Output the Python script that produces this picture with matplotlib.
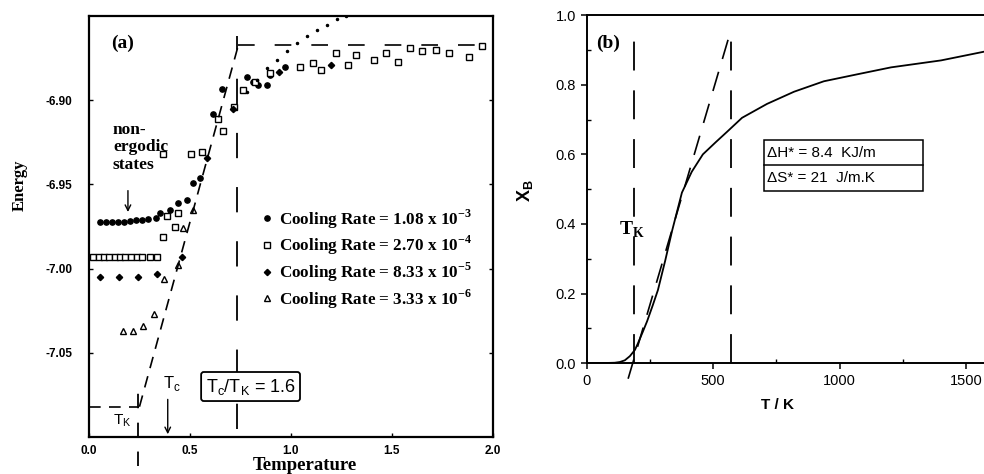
import numpy as np
import matplotlib
matplotlib.use("Agg")
import matplotlib.pyplot as plt
from matplotlib.font_manager import FontProperties
from matplotlib.patches import Rectangle

SERIF = "Liberation Serif"
SANS = "Liberation Sans"

# ---- panel (a) data: energy vs temperature for four cooling rates ----
circ_x = [0.055, 0.085, 0.115, 0.145, 0.175, 0.205, 0.235, 0.265, 0.29, 0.33, 0.35, 0.40,
          0.44, 0.485, 0.515, 0.55, 0.615, 0.66, 0.78, 0.81, 0.835, 0.88, 0.895, 0.97]
circ_y = [-6.972, -6.972, -6.972, -6.972, -6.972, -6.9715, -6.971, -6.971, -6.9705, -6.970,
          -6.967, -6.965, -6.961, -6.959, -6.949, -6.946, -6.908, -6.893, -6.886, -6.889,
          -6.891, -6.891, -6.885, -6.880]

sq_x = [0.02, 0.05, 0.075, 0.10, 0.13, 0.155, 0.18, 0.21, 0.24, 0.265, 0.30, 0.335, 0.365,
        0.385, 0.425, 0.44, 0.365, 0.505, 0.56, 0.64, 0.665, 0.72, 0.765, 0.82, 0.895, 1.045,
        1.11, 1.15, 1.225, 1.28, 1.32, 1.41, 1.47, 1.53, 1.59, 1.65, 1.72, 1.78, 1.88, 1.945]
sq_y = [-6.993, -6.993, -6.993, -6.993, -6.993, -6.993, -6.993, -6.993, -6.993, -6.993,
        -6.993, -6.993, -6.981, -6.969, -6.975, -6.967, -6.932, -6.932, -6.931, -6.911,
        -6.918, -6.904, -6.894, -6.889, -6.884, -6.880, -6.878, -6.882, -6.872, -6.879,
        -6.873, -6.876, -6.872, -6.877, -6.869, -6.871, -6.870, -6.872, -6.874, -6.868]

dia_x = [0.055, 0.15, 0.245, 0.335, 0.46, 0.585, 0.715, 0.94, 1.20]
dia_y = [-7.005, -7.005, -7.005, -7.003, -6.993, -6.934, -6.905, -6.883, -6.879]

tri_x = [0.17, 0.22, 0.27, 0.32, 0.37, 0.44, 0.465, 0.515]
tri_y = [-7.037, -7.037, -7.034, -7.027, -7.006, -6.998, -6.976, -6.965]

# equilibrium (dotted) branch
dot_x = [0.78, 0.83, 0.88, 0.93, 0.98, 1.03, 1.08, 1.13, 1.18, 1.23, 1.27]
dot_y = [-6.895, -6.888, -6.881, -6.876, -6.871, -6.866, -6.862, -6.858, -6.855, -6.852, -6.850]

# guide lines
low_x, low_y = [0.0, 0.25], [-7.082, -7.082]
slope_x, slope_y = [0.25, 0.74], [-7.082, -6.867]
high_x, high_y = [0.74, 1.97], [-6.867, -6.867]
tk_a, tc_a, tmid_a = 0.245, 0.39, 0.735

rates = ["1.08 x 10$^{\\mathregular{-3}}$", "2.70 x 10$^{\\mathregular{-4}}$",
         "8.33 x 10$^{\\mathregular{-5}}$", "3.33 x 10$^{\\mathregular{-6}}$"]

# ---- panel (b) data: X_B vs T/K ----
T_b = [0, 60, 110, 130, 150, 170, 190, 202, 220, 238, 260, 281, 310, 337, 376, 415, 459,
       510, 555, 614, 713, 820, 938, 1070, 1204, 1402, 1572]
X_b = [0, 0, 0.001, 0.003, 0.008, 0.02, 0.038, 0.057, 0.088, 0.12, 0.165, 0.21, 0.295,
       0.38, 0.49, 0.55, 0.60, 0.635, 0.665, 0.705, 0.745, 0.78, 0.81, 0.83, 0.85, 0.87, 0.895]
tan_x, tan_y = [163, 565], [-0.045, 0.945]
tk_b, t2_b = 186, 570

fig = plt.figure(figsize=(9.84, 4.74), dpi=100)

# ================= panel (a) =================
ax1 = fig.add_axes([0.0904, 0.078, 0.4106, 0.888])
ax1.plot(circ_x, circ_y, "o", ms=3.8, color="black", label="Cooling Rate = " + rates[0])
ax1.plot(sq_x, sq_y, "s", ms=4.8, mfc="white", mec="black", mew=1.0,
         label="Cooling Rate = " + rates[1])
ax1.plot(dia_x, dia_y, "D", ms=3.2, color="black", label="Cooling Rate = " + rates[2])
ax1.plot(tri_x, tri_y, "^", ms=5, mfc="white", mec="black", mew=1.0,
         label="Cooling Rate = " + rates[3])
ax1.plot(dot_x, dot_y, ".", ms=3, color="black")

ax1.plot(low_x, low_y, color="black", lw=1.2, dashes=(7, 5))
ax1.plot(slope_x, slope_y, color="black", lw=1.2, dashes=(7, 5))
ax1.plot(high_x, high_y, color="black", lw=1.2, dashes=(10, 12))
ax1.plot([tmid_a, tmid_a], [-7.095, -6.862], color="black", lw=1.3, dashes=(14, 16))
ax1.plot([tk_a, tk_a], [-7.117, -7.068], color="black", lw=1.3, dashes=(8, 8), clip_on=False)

ax1.set_xlim(0, 2.0)
ax1.set_ylim(-7.10, -6.85)
ax1.set_xticks([0.0, 0.5, 1.0, 1.5, 2.0])
ax1.set_yticks([-7.05, -7.00, -6.95, -6.90])
ax1.xaxis.set_major_formatter(matplotlib.ticker.FormatStrFormatter("%.1f"))
ax1.yaxis.set_major_formatter(matplotlib.ticker.FormatStrFormatter("%.2f"))
ax1.tick_params(direction="in", length=3, width=1, right=True, pad=6)
ax1.tick_params(axis="y", pad=12)
for lab in ax1.get_xticklabels() + ax1.get_yticklabels():
    lab.set_fontfamily(SANS)
    lab.set_fontweight("bold")
    lab.set_fontsize(8.5)
for sp in ax1.spines.values():
    sp.set_linewidth(1.6)

ax1.text(-0.171, 0.599, "Energy", transform=ax1.transAxes, rotation=90, ha="center",
         va="center", family=SERIF, weight="bold", fontsize=12)
ax1.text(0.535, -0.067, "Temperature", transform=ax1.transAxes, ha="center", va="center",
         family=SERIF, weight="bold", fontsize=13.5)
ax1.text(0.082, 0.936, "(a)", transform=ax1.transAxes, ha="center", va="center",
         family=SERIF, weight="bold", fontsize=14)
ax1.text(0.119, -6.913, "non-\nergodic\nstates", ha="left", va="top", family=SERIF,
         weight="bold", fontsize=12.5, linespacing=1.1)
ax1.annotate("", xy=(0.193, -6.968), xytext=(0.193, -6.952),
             arrowprops=dict(arrowstyle="->", color="black", lw=1.0))
ax1.text(0.366, -7.068, "T$_\\mathregular{c}$", ha="left", va="center", family=SANS,
         fontsize=12)
ax1.annotate("", xy=(tc_a, -7.10), xytext=(tc_a, -7.076),
             arrowprops=dict(arrowstyle="->", color="black", lw=1.0))
ax1.text(0.119, -7.090, "T$_\\mathregular{K}$", ha="left", va="center", family=SANS,
         fontsize=11)
ax1.text(0.80, -7.070, "T$_\\mathregular{c}$/T$_\\mathregular{K}$ = 1.6", ha="center",
         va="center", family=SANS, fontsize=13,
         bbox=dict(boxstyle="round,pad=0.25,rounding_size=0.15", fc="white", ec="black", lw=1.3))

leg_font = FontProperties(family=SERIF, weight="bold", size=12.3)
ax1.legend(loc="upper left", bbox_to_anchor=(0.41, 0.562), frameon=False, prop=leg_font,
           handlelength=0.6, handletextpad=0.4, labelspacing=0.2, borderaxespad=0)

# ================= panel (b) =================
ax2 = fig.add_axes([0.5965, 0.234, 0.4035, 0.734])
ax2.plot(T_b, X_b, color="black", lw=1.3)
ax2.plot(tan_x, tan_y, color="black", lw=1.2, dashes=(12, 8), clip_on=False)
ax2.plot([tk_b, tk_b], [0.0, 0.96], color="black", lw=1.3, dashes=(16, 11))
ax2.plot([t2_b, t2_b], [0.0, 0.96], color="black", lw=1.3, dashes=(16, 11))

ax2.set_xlim(0, 1572)
ax2.set_ylim(0, 1.0)
ax2.set_xticks([0, 500, 1000, 1500])
ax2.set_xticks([250, 750, 1250], minor=True)
ax2.set_yticks([0.0, 0.2, 0.4, 0.6, 0.8, 1.0])
ax2.set_yticks([0.1, 0.3, 0.5, 0.7, 0.9], minor=True)
ax2.yaxis.set_major_formatter(matplotlib.ticker.FormatStrFormatter("%.1f"))
ax2.tick_params(which="major", direction="out", length=4, width=1.1, pad=4)
ax2.tick_params(which="minor", direction="in", length=3, width=1)
for lab in ax2.get_xticklabels() + ax2.get_yticklabels():
    lab.set_fontfamily(SANS)
    lab.set_fontsize(10.5)
ax2.spines["right"].set_visible(False)
for sp in ["left", "bottom", "top"]:
    ax2.spines[sp].set_linewidth(1.4)

ax2.text(0.479, -0.121, "T / K", transform=ax2.transAxes, ha="center", va="center",
         family=SANS, weight="bold", fontsize=11)
ax2.text(-0.156, 0.497, "X$_\\mathregular{B}$", transform=ax2.transAxes, rotation=90,
         ha="center", va="center", family=SANS, weight="bold", fontsize=13)
ax2.text(83, 0.92, "(b)", ha="center", va="center", family=SERIF, weight="bold", fontsize=14)
ax2.text(178, 0.382, "T$_\\mathregular{K}$", ha="center", va="center", family=SERIF,
         weight="bold", fontsize=14)

box_x0, box_x1 = 701, 1330
box_y0, box_ymid, box_y1 = 0.494, 0.569, 0.641
ax2.add_patch(Rectangle((box_x0, box_y0), box_x1 - box_x0, box_y1 - box_y0,
                        fc="white", ec="black", lw=1.1, zorder=3))
ax2.plot([box_x0, box_x1], [box_ymid, box_ymid], color="black", lw=1.1, zorder=4)
ax2.text(box_x0 + 10, (box_ymid + box_y1) / 2, "\u0394H* = 8.4  KJ/m", ha="left",
         va="center", family=SANS, fontsize=11, zorder=5)
ax2.text(box_x0 + 10, (box_y0 + box_ymid) / 2, "\u0394S* = 21  J/m.K", ha="left",
         va="center", family=SANS, fontsize=11, zorder=5)

fig.savefig("out.png", dpi=100)
